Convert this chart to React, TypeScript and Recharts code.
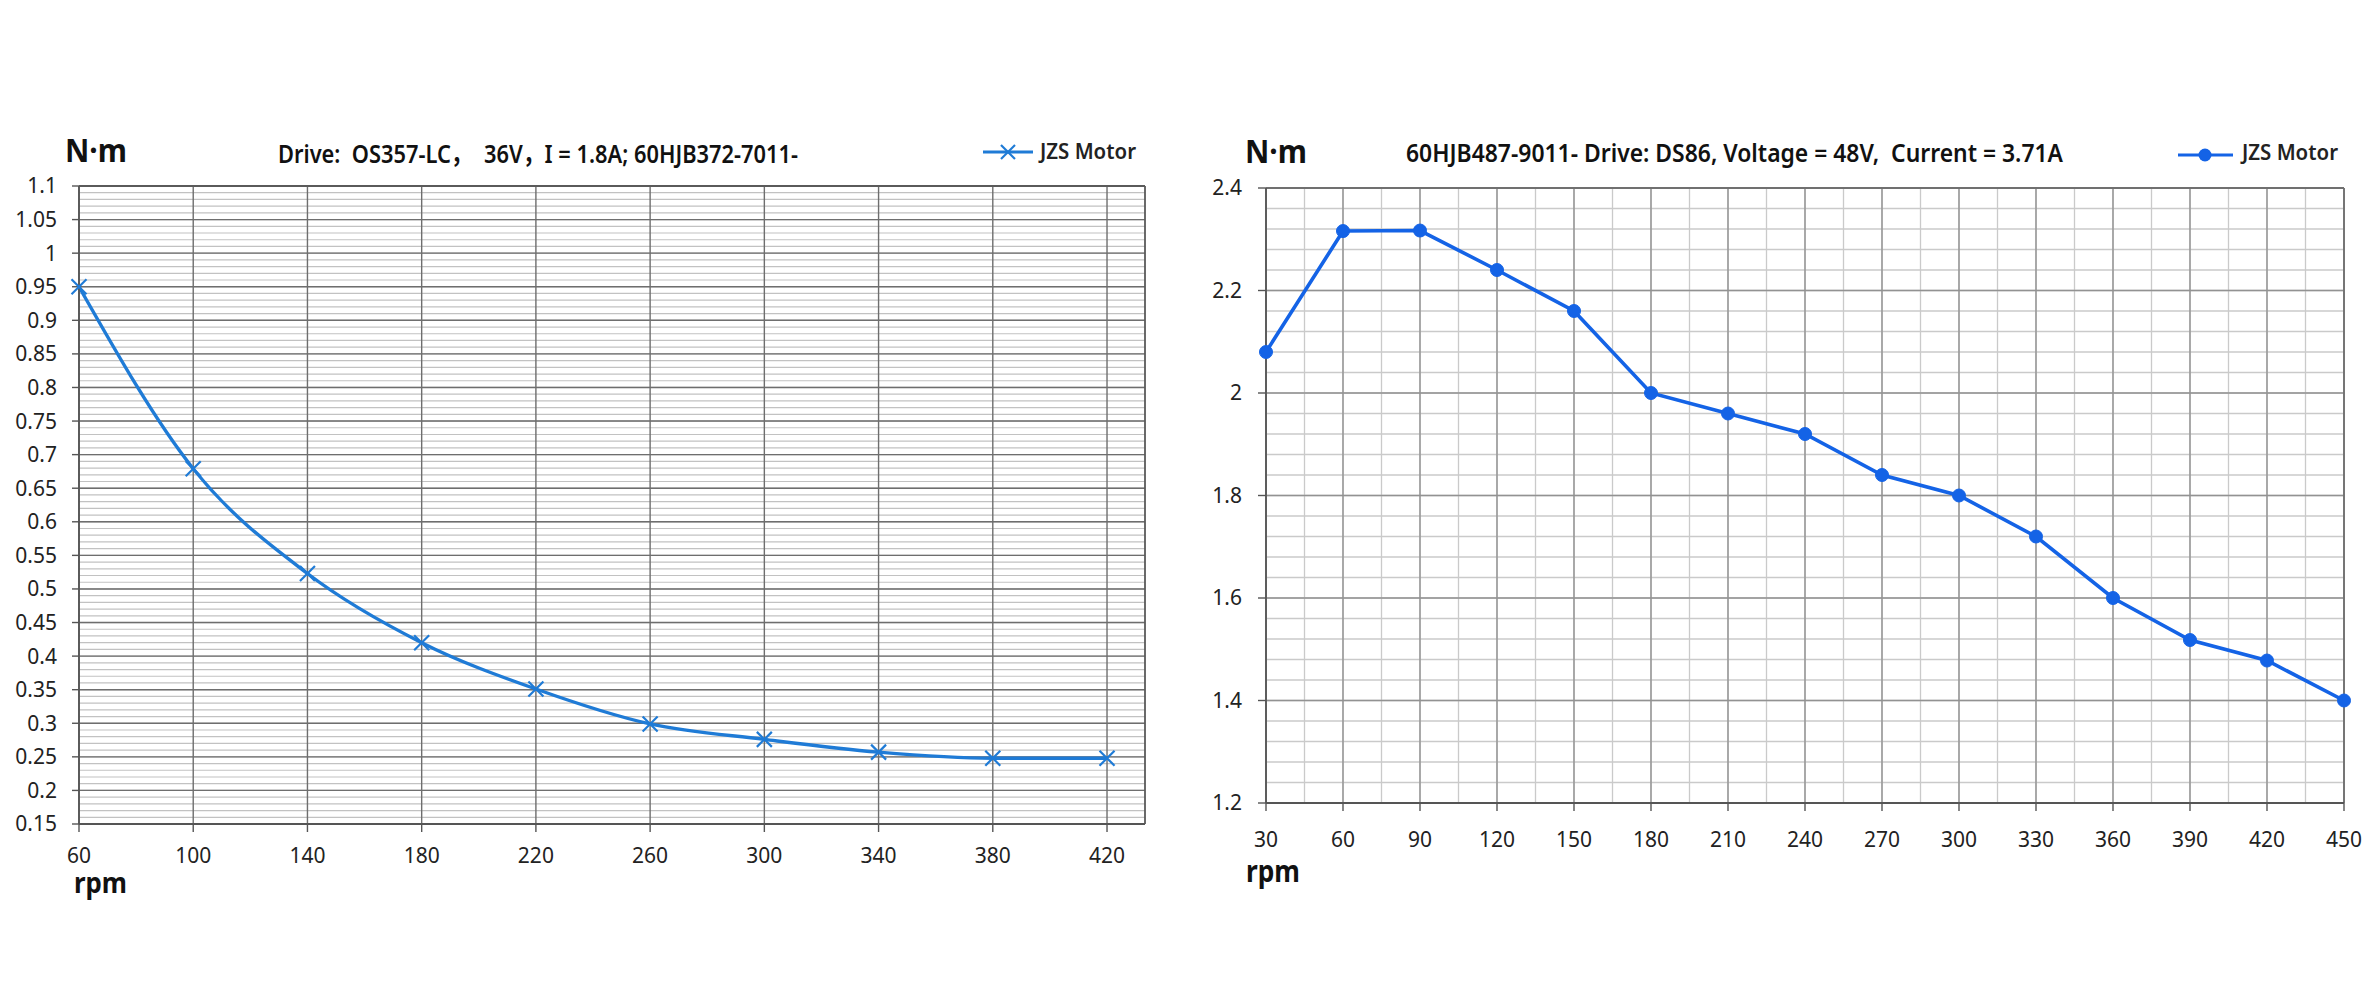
import { CartesianGrid, Legend, Line, LineChart, ReferenceLine, XAxis, YAxis } from 'recharts'

// left chart: OS357-LC drive, 60HJB372-7011-
const leftRpm = [60, 100, 140, 180, 220, 260, 300, 340, 380, 420]
const leftTorque = [0.95, 0.679, 0.523, 0.42, 0.351, 0.299, 0.276, 0.257, 0.248, 0.248]
const leftXTicks = [60, 100, 140, 180, 220, 260, 300, 340, 380, 420]
const leftYTicks = [0.15, 0.2, 0.25, 0.3, 0.35, 0.4, 0.45, 0.5, 0.55, 0.6, 0.65, 0.7, 0.75, 0.8, 0.85, 0.9, 0.95, 1, 1.05, 1.1]

// right chart: DS86 drive, 60HJB487-9011-
const rightRpm = [30, 60, 90, 120, 150, 180, 210, 240, 270, 300, 330, 360, 390, 420, 450]
const rightTorque = [2.08, 2.316, 2.317, 2.24, 2.16, 2.0, 1.96, 1.92, 1.84, 1.8, 1.72, 1.6, 1.518, 1.478, 1.4]
const rightXTicks = [30, 60, 90, 120, 150, 180, 210, 240, 270, 300, 330, 360, 390, 420, 450]
const rightYTicks = [1.2, 1.4, 1.6, 1.8, 2, 2.2, 2.4]

const SERIES_NAME = 'JZS Motor'
const LEFT_BLUE = '#1f7bd6'
const RIGHT_BLUE = '#1463e6'
const FONT = "'Noto Sans', 'Noto Sans CJK SC', sans-serif"

// grid line positions only (not data)
function steps(from: number, to: number, step: number) {
  const out: number[] = []
  const n = Math.round((to - from) / step)
  for (let i = 0; i <= n; i++) out.push(+(from + i * step).toFixed(4))
  return out
}

const leftData = leftRpm.map((rpm, i) => ({ rpm, torque: leftTorque[i] }))
const rightData = rightRpm.map((rpm, i) => ({ rpm, torque: rightTorque[i] }))

const LEFT_X_MAX = 433.3

function CrossDot(props: any) {
  const { cx, cy, index } = props
  if (cx == null || cy == null) return <g key={index} />
  const s = 7.5
  return (
    <g key={`x-${index}`}>
      <line x1={cx - s} y1={cy - s} x2={cx + s} y2={cy + s} stroke={LEFT_BLUE} strokeWidth={2.2} />
      <line x1={cx - s} y1={cy + s} x2={cx + s} y2={cy - s} stroke={LEFT_BLUE} strokeWidth={2.2} />
    </g>
  )
}

function LeftLegend() {
  return (
    <svg width={175} height={40} style={{ display: 'block' }}>
      <line x1={8} y1={22} x2={58} y2={22} stroke={LEFT_BLUE} strokeWidth={3} />
      <line x1={26} y1={15} x2={40} y2={29} stroke={LEFT_BLUE} strokeWidth={2.2} />
      <line x1={26} y1={29} x2={40} y2={15} stroke={LEFT_BLUE} strokeWidth={2.2} />
      <text x={65} y={29} fontSize={22} fontWeight={600} fill="#222" textLength={96} lengthAdjust="spacingAndGlyphs" fontFamily={FONT}>
        {SERIES_NAME}
      </text>
    </svg>
  )
}

function RightLegend() {
  return (
    <svg width={175} height={40} style={{ display: 'block' }}>
      <line x1={8} y1={25} x2={63} y2={25} stroke={RIGHT_BLUE} strokeWidth={3} />
      <circle cx={35} cy={25} r={6.5} fill={RIGHT_BLUE} />
      <text x={72} y={30} fontSize={22} fontWeight={600} fill="#222" textLength={96} lengthAdjust="spacingAndGlyphs" fontFamily={FONT}>
        {SERIES_NAME}
      </text>
    </svg>
  )
}

function Labels() {
  const t = { fontFamily: FONT, fill: '#111', whiteSpace: 'pre' as const }
  return (
    <svg width={2379} height={989} style={{ position: 'absolute', left: 0, top: 0, pointerEvents: 'none' }}>
      <text x={65} y={162} fontSize={32} fontWeight={700} textLength={62} lengthAdjust="spacingAndGlyphs" style={t}>N·m</text>
      <text x={278} y={163} fontSize={25} fontWeight={600} textLength={520} lengthAdjust="spacingAndGlyphs" style={t}>
        {'Drive:  OS357-LC，  36V，I = 1.8A; 60HJB372-7011-'}
      </text>
      <text x={74} y={893} fontSize={28} fontWeight={700} textLength={53} lengthAdjust="spacingAndGlyphs" style={t}>rpm</text>

      <text x={1245} y={163} fontSize={32} fontWeight={700} textLength={62} lengthAdjust="spacingAndGlyphs" style={t}>N·m</text>
      <text x={1406} y={162} fontSize={25} fontWeight={600} textLength={657} lengthAdjust="spacingAndGlyphs" style={t}>
        {'60HJB487-9011- Drive: DS86, Voltage = 48V,  Current = 3.71A'}
      </text>
      <text x={1246} y={882} fontSize={30} fontWeight={700} textLength={54} lengthAdjust="spacingAndGlyphs" style={t}>rpm</text>
    </svg>
  )
}

export default function App() {
  return (
    <div style={{ position: 'absolute', left: 0, top: 0, width: 2379, height: 989, background: '#fff', fontFamily: FONT }}>
      <div style={{ position: 'absolute', left: 0, top: 0 }}>
        <LineChart width={1190} height={989} data={leftData} margin={{ top: 186, right: 45, bottom: 105, left: 19 }}>
          <CartesianGrid horizontalValues={steps(0.15, 1.1, 0.01)} vertical={false} stroke="#c2c2c2" strokeWidth={1.2} />
          <CartesianGrid horizontalValues={leftYTicks} verticalValues={leftXTicks} stroke="#6e6e6e" strokeWidth={1.4} />
          <ReferenceLine y={1.1} stroke="#5a5a5a" strokeWidth={1.8} />
          <ReferenceLine x={LEFT_X_MAX} stroke="#5a5a5a" strokeWidth={1.8} />
          <XAxis
            dataKey="rpm"
            type="number"
            domain={[60, LEFT_X_MAX]}
            ticks={leftXTicks}
            interval={0}
            height={60}
            tickSize={8}
            tickMargin={16}
            axisLine={{ stroke: '#555', strokeWidth: 1.8 }}
            tickLine={{ stroke: '#555', strokeWidth: 1.4 }}
            tick={{ fontSize: 21, fill: '#222' }}
          />
          <YAxis
            dataKey="torque"
            type="number"
            domain={[0.15, 1.1]}
            ticks={leftYTicks}
            interval={0}
            width={60}
            tickSize={7}
            tickMargin={15}
            axisLine={{ stroke: '#555', strokeWidth: 1.8 }}
            tickLine={{ stroke: '#555', strokeWidth: 1.4 }}
            tick={{ fontSize: 21, fill: '#222' }}
          />
          <Legend
            layout="horizontal"
            verticalAlign="middle"
            align="center"
            content={() => <LeftLegend />}
            wrapperStyle={{ left: 975, top: 130, width: 175, height: 40 }}
          />
          <Line
            name={SERIES_NAME}
            type="monotone"
            dataKey="torque"
            stroke={LEFT_BLUE}
            strokeWidth={3.4}
            dot={CrossDot}
            activeDot={false}
            isAnimationActive={false}
          />
        </LineChart>
      </div>

      <div style={{ position: 'absolute', left: 1190, top: 0 }}>
        <LineChart width={1189} height={989} data={rightData} margin={{ top: 188, right: 35, bottom: 126, left: 16 }}>
          <CartesianGrid horizontalValues={steps(1.2, 2.4, 0.04)} verticalValues={steps(30, 450, 15)} stroke="#cacaca" strokeWidth={1.3} />
          <CartesianGrid horizontalValues={rightYTicks} verticalValues={rightXTicks} stroke="#929292" strokeWidth={1.4} />
          <ReferenceLine y={2.4} stroke="#707070" strokeWidth={1.8} />
          <ReferenceLine x={450} stroke="#707070" strokeWidth={1.8} />
          <XAxis
            dataKey="rpm"
            type="number"
            domain={[30, 450]}
            ticks={rightXTicks}
            interval={0}
            height={60}
            tickSize={8}
            tickMargin={21}
            axisLine={{ stroke: '#555', strokeWidth: 1.8 }}
            tickLine={{ stroke: '#555', strokeWidth: 1.4 }}
            tick={{ fontSize: 21, fill: '#222' }}
          />
          <YAxis
            dataKey="torque"
            type="number"
            domain={[1.2, 2.4]}
            ticks={rightYTicks}
            interval={0}
            width={60}
            tickSize={8}
            tickMargin={16}
            axisLine={{ stroke: '#555', strokeWidth: 1.8 }}
            tickLine={{ stroke: '#555', strokeWidth: 1.4 }}
            tick={{ fontSize: 21, fill: '#222' }}
          />
          <Legend
            layout="horizontal"
            verticalAlign="middle"
            align="center"
            content={() => <RightLegend />}
            wrapperStyle={{ left: 980, top: 130, width: 175, height: 40 }}
          />
          <Line
            name={SERIES_NAME}
            type="linear"
            dataKey="torque"
            stroke={RIGHT_BLUE}
            strokeWidth={3.6}
            dot={{ r: 6.5, fill: RIGHT_BLUE, stroke: RIGHT_BLUE, strokeWidth: 1 }}
            activeDot={false}
            isAnimationActive={false}
          />
        </LineChart>
      </div>

      <Labels />
    </div>
  )
}
